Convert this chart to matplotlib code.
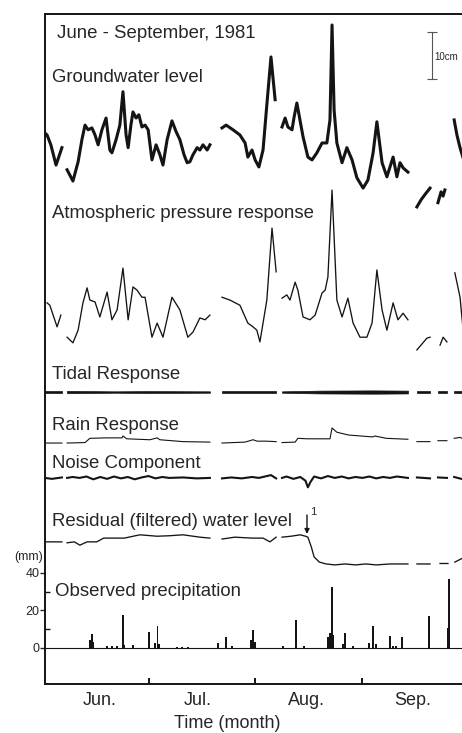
import numpy as np
import matplotlib
matplotlib.use("Agg")
import matplotlib.pyplot as plt
from matplotlib.ticker import FixedLocator, NullFormatter

# ---- data (x in days since 1 June 1981; traces in cm, None = no record) ----
gw_day = [0.0, 0.6, 1.7, 3.2, 4.9, None,
          6.4, 8.1, 9.6, 10.7, 11.6, 12.5, 13.6, 14.5, 15.4, 16.5, 17.7, 18.8, 19.4, 20.6, 21.7,
          22.6, 23.5, 24.1, 24.9, 25.5, 26.4, 27.2, 28.1, 29.0, 29.9, 31.0, 32.2, 33.3, 34.2, 35.4,
          36.8, 38.0, 39.1, 40.3, 41.2, 42.0, 42.9, 44.1, 44.9, 45.8, 47.0, 47.8, None,
          51.3, 52.5, 54.5, 56.5, 58.0, 58.8, 60.0, 60.9, 62.0, 63.2, 64.3, 65.5, 66.7, None,
          68.7, 69.6, 70.4, 71.6, 72.2, 73.0, 73.9, 74.8, 76.2, 77.4, 78.8, 80.3, 81.7, 82.6, 83.2,
          83.8, 84.6, 86.1, 87.5, 89.0, 90.4, 92.2, 93.6, 95.1, 96.2, 97.7, 99.1, 100.0, 100.9,
          102.0, 102.9, 103.8, 105.2, None,
          107.8, 109.0, 110.1, 111.6, None,
          113.9, 114.8, 115.4, 115.9, None,
          118.6, 119.4, 120.3, 121.2]
gw_cm = [5.7, 5.3, 3.2, -1.1, 2.6, None,
         -2.1, -4.5, -0.4, 4.3, 7.4, 6.4, 6.8, 5.3, 3.2, 6.4, 8.9, 2.1, 1.5, 4.3, 7.4,
         14.5, 5.3, 2.6, 7.4, 10.2, 8.9, 9.6, 7.0, 7.4, 6.4, 0.0, 3.2, 1.1, -1.1, 4.3,
         8.3, 6.0, 4.3, 1.1, -0.6, -0.4, 1.1, 2.6, 2.1, 3.2, 2.1, 3.2, None,
         6.8, 7.4, 6.4, 5.3, 3.6, 0.6, 2.1, 0.0, -1.5, 2.1, 11.7, 21.9, 12.8, None,
         7.0, 8.9, 7.0, 6.4, 9.1, 12.1, 8.5, 4.9, 0.6, 0.0, 1.5, 3.6, 3.6, 8.5, 28.7,
         10.6, 3.6, -0.6, 2.6, 0.0, -3.8, -6.0, -4.3, 1.5, 8.1, -0.6, -3.6, -1.5, 0.6,
         -3.6, -0.6, -1.7, -2.6, None,
         -10.0, -8.5, -7.4, -6.0, None,
         -9.1, -6.8, -7.7, -6.4, None,
         8.5, 5.3, 2.6, 0.4]

atm_day = [0.6, 1.4, 3.5, 4.6, None,
           6.4, 8.1, 9.6, 11.0, 12.2, 13.0, 14.5, 15.9, 18.0, 19.4, 20.9, 22.6, 24.1, 25.5, 26.7,
           28.1, 29.0, 31.0, 32.5, 34.2, 36.8, 39.1, 41.4, 42.9, 44.9, 46.4, 47.8, None,
           51.3, 53.6, 56.5, 58.8, 60.3, 61.4, 62.3, 64.3, 65.8, 67.0, None,
           68.7, 70.1, 71.0, 72.5, 73.3, 74.8, 76.8, 78.3, 80.3, 81.2, 82.0, 83.2, 84.6, 86.1,
           87.8, 89.3, 91.3, 93.3, 94.8, 96.2, 97.7, 99.1, 100.9, 102.3, 103.8, 105.2, None,
           107.8, 110.7, 111.6, None,
           114.5, 115.4, 116.5, None,
           118.8, 120.3, 121.2]
atm_cm = [6.2, 5.7, 1.1, 3.6, None,
          -1.1, -2.3, 0.4, 6.2, 9.4, 6.8, 6.4, 3.2, 8.5, 2.6, 4.7, 13.6, 2.6, 9.6, 8.9,
          7.4, 7.4, -1.1, 1.9, -1.1, 7.4, 4.7, -1.1, 0.0, 3.0, 2.6, 3.6, None,
          7.4, 6.8, 5.7, 1.9, 1.1, 0.4, -2.1, 6.8, 22.1, 12.8, None,
          7.2, 7.9, 6.8, 10.6, 8.9, 3.2, 2.6, 3.6, 8.3, 8.9, 11.7, 30.2, 6.8, 3.2,
          7.2, 1.9, -1.1, -1.1, 1.9, 13.2, 4.7, 0.4, 6.2, 2.6, 4.0, 2.6, None,
          -3.8, -1.3, -1.1, None,
          -2.8, -1.1, -2.1, None,
          12.6, 7.4, 0.4]

tidal_day = [0.0, 4.9, None, 6.4, 20.0, 30.0, 47.8, None, 51.3, 67.0, None,
             68.7, 80.0, 95.0, 105.2, None, 107.8, 111.6, None, 113.9, 116.5, None, 118.6, 122.0]
tidal_amp = [0.25, 0.25, None, 0.25, 0.15, 0.2, 0.15, None, 0.2, 0.2, None,
             0.15, 0.3, 0.35, 0.3, None, 0.3, 0.3, None, 0.3, 0.3, None, 0.3, 0.3]

rain_day = [0.0, 4.9, None,
            6.4, 11.6, 13.0, 17.7, 22.3, 22.6, 23.7, 30.4, 32.5, 33.3, 40.0, 47.8, None,
            51.3, 58.0, 60.3, 61.5, 64.0, 67.0, None,
            68.7, 72.5, 73.3, 76.0, 82.6, 83.2, 84.6, 88.0, 95.0, 95.6, 99.0, 105.2, None,
            107.8, 111.6, None, 113.9, 116.5, None, 118.6, 120.3, 121.2]
rain_cm = [0.0, 0.0, None,
           0.0, 0.1, 1.0, 1.1, 1.1, 1.5, 0.9, 0.7, 1.1, 0.7, 0.3, 0.2, None,
           0.0, 0.2, 0.7, 0.4, 0.4, 0.3, None,
           0.1, 0.2, 1.0, 0.9, 0.9, 3.2, 2.3, 1.7, 1.3, 1.5, 1.0, 0.8, None,
           0.3, 0.3, None, 0.5, 0.5, None, 1.0, 1.2, 0.9]

noise_day = [0.0, 2.0, 4.9, None,
             6.4, 8, 10, 12, 14, 16, 18, 20, 22, 24, 26, 28, 30, 32, 34, 36, 40, 44, 47.8, None,
             51.3, 54, 57, 60, 62, 65.5, 67.0, None,
             68.7, 70, 72, 74, 75.5, 76.2, 77, 78, 80, 82, 84, 86, 88, 90, 92, 94, 96, 98, 100,
             102, 105.2, None,
             107.8, 111.6, None, 113.9, 116.5, None, 118.6, 121.2]
noise_cm = [0.0, -0.2, 0.1, None,
            0.0, 0.2, 0.0, 0.3, -0.3, 0.2, -0.2, 0.3, -0.1, 0.2, -0.3, 0.1, 0.4, -0.1, 0.2, 0.0,
            0.1, -0.1, 0.0, None,
            -0.1, 0.1, -0.1, 0.2, 0.0, 0.6, -0.1, None,
            0.0, 0.3, -0.2, 0.2, -0.6, -2.0, -0.8, 0.3, -0.1, 0.4, 0.0, 0.3, -0.1, 0.2, 0.0, 0.3,
            -0.1, 0.2, 0.0, 0.3, 0.0, None,
            0.1, -0.1, None, 0.1, 0.0, None, 0.2, -0.3]

res_day = [0.0, 4.9, None,
           6.4, 8.5, 10.1, 12.2, 15, 17, 23, 27.5, 32.5, 36, 40, 44.9, 47.8, None,
           51.3, 55, 60, 63.2, 65.2, 67.0, None,
           68.7, 71.3, 74, 75.5, 76.2, 77.2, 78.0, 79.5, 81.5, 84, 87, 90, 93, 96, 100, 105.2, None,
           107.8, 111.6, None, 114.5, 116.8, None, 118.8, 121.2]
res_cm = [-0.4, -0.4, None,
          -0.6, -0.4, -1.1, -0.4, -0.4, 0.4, 0.4, 1.1, 0.8, 0.9, 1.1, 0.6, 0.4, None,
          0.2, 0.6, 0.4, 0.4, -0.4, 0.6, None,
          0.6, 0.8, 1.1, 0.8, 0.6, -1.5, -3.6, -4.7, -5.1, -5.3, -5.1, -5.3, -5.1, -5.3, -5.1,
          -5.1, None,
          -5.1, -5.1, None, -5.0, -5.0, None, -4.7, -3.8]

precip_day = [13.0, 13.5, 13.9, 17.9, 19.3, 20.8, 22.5, 22.9, 25.4, 30.2, 31.9, 32.6, 33.0,
              38.3, 39.7, 41.4, 50.2, 52.5, 54.1, 59.7, 60.4, 60.9, 69.0, 72.7, 75.1,
              82.0, 82.6, 83.1, 83.5, 86.4, 87.0, 89.3, 93.9, 95.2, 95.9, 100.0, 100.9, 101.7,
              103.4, 111.4, 116.9, 117.1]
precip_mm = [4, 7.5, 3, 1, 1, 1, 17.6, 1.5, 1.6, 8.7, 2.5, 11.7, 2,
             0.5, 0.5, 0.5, 2.7, 6, 1, 4, 9.6, 3, 1, 14.9, 1,
             6, 8, 32.4, 7, 2, 8.2, 1, 2.5, 11.7, 2, 6.4, 1, 1,
             5.7, 17.1, 10.5, 36.6]

month_edges = [30, 61, 92]
month_mid = [15.9, 44.3, 75.9, 106.7]
month_labels = ["Jun.", "Jul.", "Aug.", "Sep."]
precip_ticks = [0, 20, 40]
precip_minor = [10, 30]
scale_bar_cm = 10

# ---- layout ----
W, H = 462, 733
DPI = 100
INK = "#141414"
TXT = "#262626"
FONT = ["Liberation Sans", "DejaVu Sans"]
plt.rcParams["font.family"] = FONT

CM = 2.507          # vertical extent of 1 cm of water level in axis units
offsets = {"gw": 260.3, "atm": 168.5, "tide": 136.5, "rain": 109.3,
           "noise": 90.7, "res": 57.6}


def arr(v):
    return np.array([np.nan if a is None else a for a in v], dtype=float)


def fx(px):
    return px / W


def fy(py):
    return 1 - py / H


fig = plt.figure(figsize=(W / DPI, H / DPI), dpi=DPI)
fig.patch.set_facecolor("white")
ax = fig.add_axes([fx(45), fy(684), 122 * 3.45 / W, 670 / H])
ax.set_xlim(0, 122)
ax.set_ylim(-19.2, 338.1)

# water-level components
ax.plot(arr(gw_day), offsets["gw"] + CM * arr(gw_cm), color=INK, lw=2.2,
        solid_joinstyle="round")
ax.plot(arr(atm_day), offsets["atm"] + CM * arr(atm_cm), color=INK, lw=0.95)

td, ta = arr(tidal_day), arr(tidal_amp)
breaks = np.where(np.isnan(td))[0]
starts = np.r_[0, breaks + 1]
ends = np.r_[breaks, len(td)]
for s, e in zip(starts, ends):
    base = offsets["tide"]
    ax.fill_between(td[s:e], base - CM * ta[s:e], base + CM * ta[s:e],
                    color=INK, lw=0.5)

ax.plot(arr(rain_day), offsets["rain"] + CM * arr(rain_cm), color=INK, lw=0.8)
ax.plot(arr(noise_day), offsets["noise"] + CM * arr(noise_cm), color=INK, lw=1.5)
ax.plot(arr(res_day), offsets["res"] + CM * arr(res_cm), color=INK, lw=0.95)

# precipitation
ax.axhline(0, color=INK, lw=0.8)
ax.bar(precip_day, precip_mm, width=0.55, color=INK, linewidth=0)

# 10 cm scale bar
sb_x = (432 - 45) / 3.45
sb_top = (648 - 32) / 1.875
ax.errorbar([sb_x], [sb_top - CM * scale_bar_cm / 2], yerr=[CM * scale_bar_cm / 2],
            color="#555555", lw=0.8, capsize=3.5, capthick=0.8)
fig.text(fx(434), fy(57), f"{scale_bar_cm}cm", fontsize=7, color=TXT,
         va="center", ha="left")

# axes styling
for side in ("left", "bottom", "top"):
    ax.spines[side].set_linewidth(1.4)
    ax.spines[side].set_color(INK)
ax.spines["right"].set_visible(False)

ax.yaxis.set_major_locator(FixedLocator(precip_ticks))
ax.yaxis.set_minor_locator(FixedLocator(precip_minor))
ax.yaxis.set_minor_formatter(NullFormatter())
ax.tick_params(axis="y", which="major", direction="out", length=3.5, width=1.0,
               labelsize=9, colors=TXT, pad=0.5)
ax.tick_params(axis="y", which="minor", direction="in", length=3.5, width=1.0,
               colors=INK)

ax.xaxis.set_major_locator(FixedLocator(month_edges))
ax.xaxis.set_major_formatter(NullFormatter())
ax.xaxis.set_minor_locator(FixedLocator(month_mid))
ax.set_xticklabels(month_labels, minor=True)
ax.tick_params(axis="x", which="major", direction="in", length=4, width=1.4,
               colors=INK)
ax.tick_params(axis="x", which="minor", length=0, labelsize=13, pad=6,
               labelcolor=TXT)

# labels
lab = dict(fontsize=13.4, color=TXT, va="center", ha="left")
fig.text(fx(57), fy(33), "June - September, 1981", **lab)
fig.text(fx(52), fy(77), "Groundwater level", **lab)
fig.text(fx(52), fy(214), "Atmospheric pressure response", **lab)
fig.text(fx(52), fy(374), "Tidal Response", **lab)
fig.text(fx(52), fy(425), "Rain Response", **lab)
fig.text(fx(52), fy(464), "Noise Component", **lab)
fig.text(fx(52), fy(521), "Residual (filtered) water level", **lab)
fig.text(fx(55), fy(592), "Observed precipitation", **lab)
fig.text(fx(43), fy(557), "(mm)", fontsize=9, color=TXT, va="center", ha="right")
fig.text(fx(227), fy(723), "Time (month)", fontsize=13, color=TXT,
         va="center", ha="center")

# event marker on the residual curve
ax.annotate("", xy=(fx(307), fy(534)), xycoords="figure fraction",
            xytext=(fx(307), fy(515)), textcoords="figure fraction",
            arrowprops=dict(arrowstyle="-|>", color=INK, lw=1.0,
                            mutation_scale=7, shrinkA=0, shrinkB=0))
fig.text(fx(310), fy(512), "1", fontsize=8, color=TXT, va="center", ha="left")

fig.savefig("out.png", dpi=DPI, facecolor="white")
